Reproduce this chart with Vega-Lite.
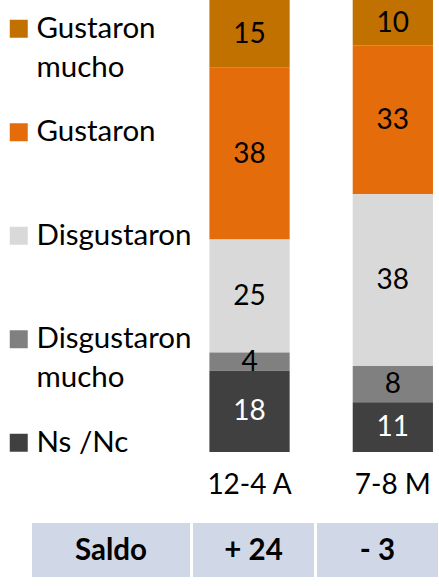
{
  "$schema": "https://vega.github.io/schema/vega-lite/v6.json",
  "padding": 0,
  "background": "white",
  "config": {"view": {"stroke": null}, "font": "Lato"},
  "datasets": {
    "barras": [
      {"periodo": "12-4 A", "respuesta": "Gustaron mucho", "orden": 5, "valor": 15},
      {"periodo": "12-4 A", "respuesta": "Gustaron", "orden": 4, "valor": 38},
      {"periodo": "12-4 A", "respuesta": "Disgustaron", "orden": 3, "valor": 25},
      {"periodo": "12-4 A", "respuesta": "Disgustaron mucho", "orden": 2, "valor": 4},
      {"periodo": "12-4 A", "respuesta": "Ns /Nc", "orden": 1, "valor": 18},
      {"periodo": "7-8 M", "respuesta": "Gustaron mucho", "orden": 5, "valor": 10},
      {"periodo": "7-8 M", "respuesta": "Gustaron", "orden": 4, "valor": 33},
      {"periodo": "7-8 M", "respuesta": "Disgustaron", "orden": 3, "valor": 38},
      {"periodo": "7-8 M", "respuesta": "Disgustaron mucho", "orden": 2, "valor": 8},
      {"periodo": "7-8 M", "respuesta": "Ns /Nc", "orden": 1, "valor": 11}
    ],
    "concepto": [{"concepto": "Saldo"}],
    "saldo": [
      {"periodo": "12-4 A", "saldo": "+ 24"},
      {"periodo": "7-8 M", "saldo": "- 3"}
    ]
  },
  "spacing": 0,
  "resolve": {
    "legend": {"color": "independent"},
    "scale": {"color": "independent", "x": "independent", "y": "independent"}
  },
  "vconcat": [
    {
      "width": 439,
      "height": 452,
      "data": {"name": "barras"},
      "layer": [
        {
          "mark": {"type": "bar"},
          "encoding": {
            "x": {
              "field": "periodo", "type": "nominal", "sort": ["12-4 A", "7-8 M"],
              "scale": {"paddingInner": 0.44, "paddingOuter": 0.7517, "align": 0.972},
              "axis": {
                "title": null, "labelAngle": 0, "domain": false, "ticks": false, "tickSize": 0,
                "labelFont": "Lato", "labelFontSize": 28, "labelColor": "black",
                "labelPadding": 19, "minExtent": 71, "maxExtent": 71
              }
            },
            "y": {
              "field": "valor", "type": "quantitative", "stack": "zero",
              "scale": {"domain": [0, 100], "nice": false}, "axis": null
            },
            "color": {
              "field": "respuesta", "type": "nominal",
              "scale": {
                "domain": ["Gustaron mucho", "Gustaron", "Disgustaron", "Disgustaron mucho", "Ns /Nc"],
                "range": ["#C07100", "#E46C0A", "#D9D9D9", "#808080", "#404040"]
              },
              "legend": {
                "orient": "none", "legendX": 0, "legendY": 10,
                "title": null, "padding": 4,
                "symbolType": "square", "symbolSize": 324,
                "symbolStrokeWidth": 0, "symbolOpacity": 1,
                "labelFont": "Lato", "labelFontSize": 29.5, "labelColor": "black",
                "labelOffset": 3, "labelLimit": 300, "rowPadding": 33.5,
                "labelExpr": "datum.label === 'Gustaron mucho' ? ['Gustaron', 'mucho'] : datum.label === 'Disgustaron mucho' ? ['Disgustaron', 'mucho'] : [datum.label, '']",
                "encode": {"labels": {"update": {"lineHeight": {"value": 39}}}}
              }
            },
            "order": {"field": "orden", "type": "quantitative"}
          }
        },
        {
          "transform": [
            {"stack": "valor", "groupby": ["periodo"], "sort": [{"field": "orden", "order": "ascending"}], "as": ["v0", "v1"]},
            {"fold": ["v0", "v1"], "as": ["extremo", "pos"]},
            {"aggregate": [{"op": "mean", "field": "pos", "as": "centro"}], "groupby": ["periodo", "respuesta", "valor"]}
          ],
          "mark": {"type": "text", "font": "Lato", "fontSize": 28, "baseline": "middle", "dy": 1},
          "encoding": {
            "x": {"field": "periodo", "type": "nominal", "sort": ["12-4 A", "7-8 M"]},
            "y": {"field": "centro", "type": "quantitative"},
            "text": {"field": "valor", "type": "quantitative"},
            "color": {"condition": {"test": "datum.respuesta === 'Ns /Nc'", "value": "white"}, "value": "black"}
          }
        }
      ]
    },
    {
      "hconcat": [
        {
          "width": 190,
          "height": 54,
          "data": {"name": "concepto"},
          "layer": [
            {
              "mark": {"type": "bar", "color": "#D0D8E8"},
              "encoding": {
                "x": {"field": "concepto", "type": "nominal", "scale": {"paddingInner": 0, "paddingOuter": 0.1013, "align": 1}, "axis": null}
              }
            },
            {
              "mark": {"type": "text", "font": "Lato", "fontSize": 29.5, "fontWeight": "bold", "baseline": "middle", "color": "black", "dy": 1},
              "encoding": {
                "x": {"field": "concepto", "type": "nominal"},
                "text": {"field": "concepto"}
              }
            }
          ]
        },
        {
          "width": 249,
          "height": 54,
          "data": {"name": "saldo"},
          "layer": [
            {
              "mark": {"type": "bar", "color": "#D0D8E8"},
              "encoding": {
                "x": {"field": "periodo", "type": "nominal", "sort": ["12-4 A", "7-8 M"], "scale": {"paddingInner": 0.0242, "paddingOuter": 0.0161, "align": 0.75}, "axis": null}
              }
            },
            {
              "mark": {"type": "text", "font": "Lato", "fontSize": 29.5, "fontWeight": "bold", "baseline": "middle", "color": "black", "dy": 1},
              "encoding": {
                "x": {"field": "periodo", "type": "nominal", "sort": ["12-4 A", "7-8 M"]},
                "text": {"field": "saldo"}
              }
            }
          ],
          "resolve": {"scale": {"x": "shared"}}
        }
      ],
      "spacing": 0
    }
  ]
}
